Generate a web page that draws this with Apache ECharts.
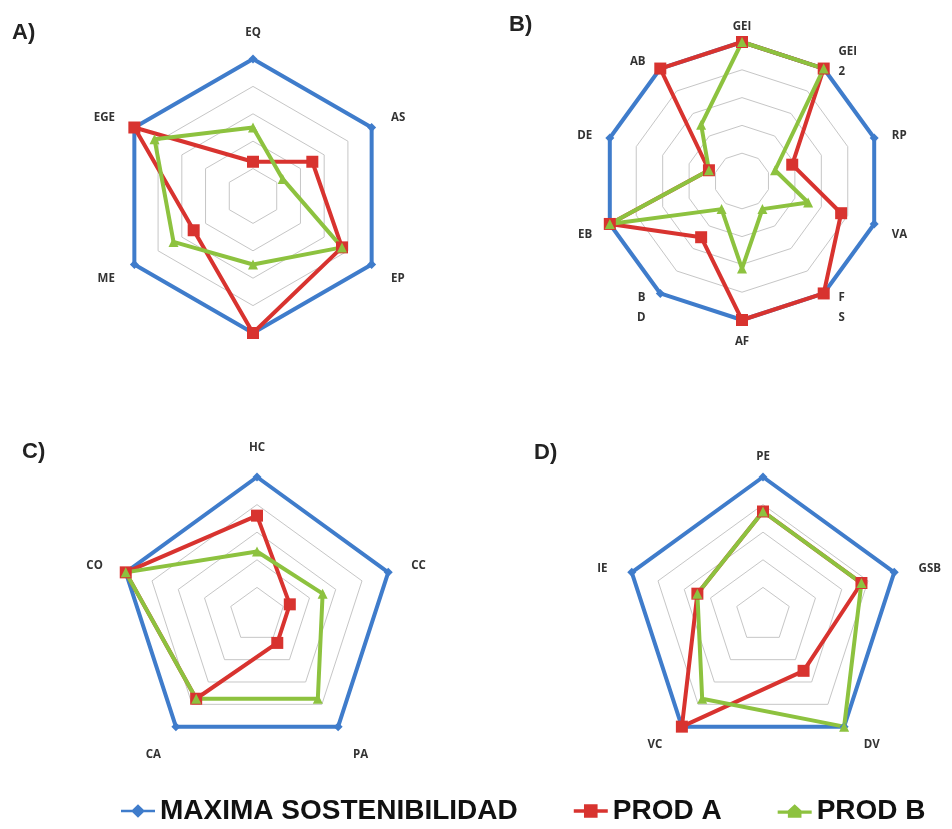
<!DOCTYPE html>
<html>
<head>
<meta charset="utf-8">
<script src="https://cdn.jsdelivr.net/npm/echarts@6/dist/echarts.min.js"></script>
<style>html,body{margin:0;padding:0;background:#fff}#c{width:952px;height:829px}</style>
</head>
<body>
<div id="c"></div>
<script>
// Panel A
const namesA = ['EQ', 'AS', 'EP', '', 'ME', 'EGE'];
const maxA   = [100, 100, 100, 100, 100, 100];
const prodA_A = [25, 50, 75, 100, 50, 100];
const prodB_A = [50, 25, 75, 50, 67, 83];
// Panel B
const namesB = ['GEI', 'GEI\n2', 'RP', 'VA', 'F\nS', 'AF', 'B\nD', 'EB', 'DE', 'AB'];
const maxB   = [100, 100, 100, 100, 100, 100, 100, 100, 100, 100];
const prodA_B = [100, 100, 38, 75, 100, 100, 50, 100, 25, 100];
const prodB_B = [100, 100, 25, 50, 25, 63, 25, 100, 25, 50];
// Panel C
const namesC = ['HC', 'CC', 'PA', 'CA', 'CO'];
const maxC   = [100, 100, 100, 100, 100];
const prodA_C = [72, 25, 25, 75, 100];
const prodB_C = [46, 50, 75, 75, 100];
// Panel D
const namesD = ['PE', 'GSB', 'DV', 'VC', 'IE'];
const maxD   = [100, 100, 100, 100, 100];
const prodA_D = [75, 75, 50, 100, 50];
const prodB_D = [75, 75, 100, 75, 50];

const panelLabels = ['A)', 'B)', 'C)', 'D)'];
const seriesNames = ['MAXIMA SOSTENIBILIDAD', 'PROD A', 'PROD B'];

const BLUE = '#3f7ccb', RED = '#d8332f', GREEN = '#8dc23f';

// ECharts places indicators counter-clockwise; the reference is clockwise.
function cw(arr) { return [arr[0]].concat(arr.slice(1).reverse()); }

// layout per panel: gap = nameGap, lh = line height, low = extra top padding for lower labels,
// side = extra horizontal padding for side labels
const panels = [
  { names: namesA, max: maxA, a: prodA_A, b: prodB_A, center: [253, 196], radius: 137, gap: 19, lh: 14, low: 10, side: 3 },
  { names: namesB, max: maxB, a: prodA_B, b: prodB_B, center: [742, 181], radius: 139, gap: 8, lh: 20, low: 16, side: 10 },
  { names: namesC, max: maxC, a: prodA_C, b: prodB_C, center: [257, 615], radius: 138, gap: 22, lh: 14, low: 20, side: 2 },
  { names: namesD, max: maxD, a: prodA_D, b: prodB_D, center: [763, 615], radius: 138, gap: 13, lh: 14, low: 16, side: 12 }
];

const baseName = { color: '#333', fontSize: 11.5, fontWeight: 'bold', fontFamily: 'Open Sans' };

const radar = panels.map(p => {
  const ordered = cw(p.names);
  const n = ordered.length;
  const indicator = ordered.map((name, j) => {
    // angle measured clockwise from top in the drawn chart (ECharts goes counter-clockwise)
    const ang = (360 - 360 * j / n) % 360;
    const s = Math.sin(ang * Math.PI / 180), c = Math.cos(ang * Math.PI / 180);
    let cls;
    if (j === 0) cls = 't';
    else if (c < -0.1) cls = (s > 0.1 ? 'lr' : (s < -0.1 ? 'll' : 'b'));
    else cls = (s > 0 ? 'ur' : 'ul');
    return { name: name, min: 0, max: 100, cls: cls };
  });
  const H = p.lh;
  return {
    center: p.center,
    radius: p.radius,
    startAngle: 90,
    shape: 'polygon',
    splitNumber: 5,
    nameGap: p.gap,
    indicator: indicator,
    axisName: Object.assign({}, baseName, {
      lineHeight: H,
      formatter: function (name, ind) {
        return name.split('\n').map(l => '{' + ind.cls + '|' + l + '}').join('\n');
      },
      rich: {
        t:  Object.assign({}, baseName, { lineHeight: 14 }),
        ur: Object.assign({}, baseName, { lineHeight: H, padding: [0, 0, 0, p.side] }),
        ul: Object.assign({}, baseName, { lineHeight: H, padding: [0, p.side, 0, 0] }),
        lr: Object.assign({}, baseName, { lineHeight: H, padding: [p.low, 0, 0, p.side] }),
        ll: Object.assign({}, baseName, { lineHeight: H, padding: [p.low, p.side, 0, 0] }),
        b:  Object.assign({}, baseName, { lineHeight: H, padding: [Math.round(p.low / 2), 0, 0, 0] })
      }
    }),
    splitLine: { lineStyle: { color: '#c6c6c6', width: 1 } },
    splitArea: { show: false },
    axisLine: { show: false },
    axisTick: { show: false },
    axisLabel: { show: false }
  };
});

const styles = [
  { symbol: 'diamond', symbolSize: 9, color: BLUE },
  { symbol: 'rect', symbolSize: 12, color: RED },
  { symbol: 'triangle', symbolSize: 10, color: GREEN }
];

const series = panels.map((p, i) => ({
  type: 'radar',
  radarIndex: i,
  silent: true,
  animation: false,
  data: [p.max, p.a, p.b].map((vals, k) => ({
    name: seriesNames[k],
    value: cw(vals),
    symbol: styles[k].symbol,
    symbolSize: styles[k].symbolSize,
    itemStyle: { color: styles[k].color },
    lineStyle: { color: styles[k].color, width: 4 }
  }))
}));

const titlePos = [[12, 22], [509, 14], [22, 441], [534, 442]];
const title = panelLabels.map((t, i) => ({
  text: t,
  left: titlePos[i][0],
  top: titlePos[i][1],
  padding: 0,
  textStyle: { fontSize: 22, fontWeight: 'bold', fontFamily: 'Liberation Sans', color: '#222' }
}));

const icons = [
  'path://M0,9L10,9L15,4L20,9L30,9L30,11L20,11L15,16L10,11L0,11Z',
  'path://M0,8.5L9,8.5L9,4L21,4L21,8.5L30,8.5L30,11.5L21,11.5L21,16L9,16L9,11.5L0,11.5Z',
  'path://M0,8.5L9,8.5L15,3L21,8.5L30,8.5L30,11.5L21,11.5L21,15L9,15L9,11.5L0,11.5Z'
];

const chart = echarts.init(document.getElementById('c'), null, { renderer: 'canvas' });
chart.setOption({
  animation: false,
  backgroundColor: '#fff',
  title: title,
  legend: {
    left: 116,
    top: 792,
    itemWidth: 34,
    itemHeight: 20,
    itemGap: 56,
    selectedMode: false,
    textStyle: { fontSize: 28, fontWeight: 'bold', fontFamily: 'Liberation Sans', color: '#111' },
    data: seriesNames.map((n, k) => ({ name: n, icon: icons[k] }))
  },
  radar: radar,
  series: series
});
</script>
</body>
</html>
